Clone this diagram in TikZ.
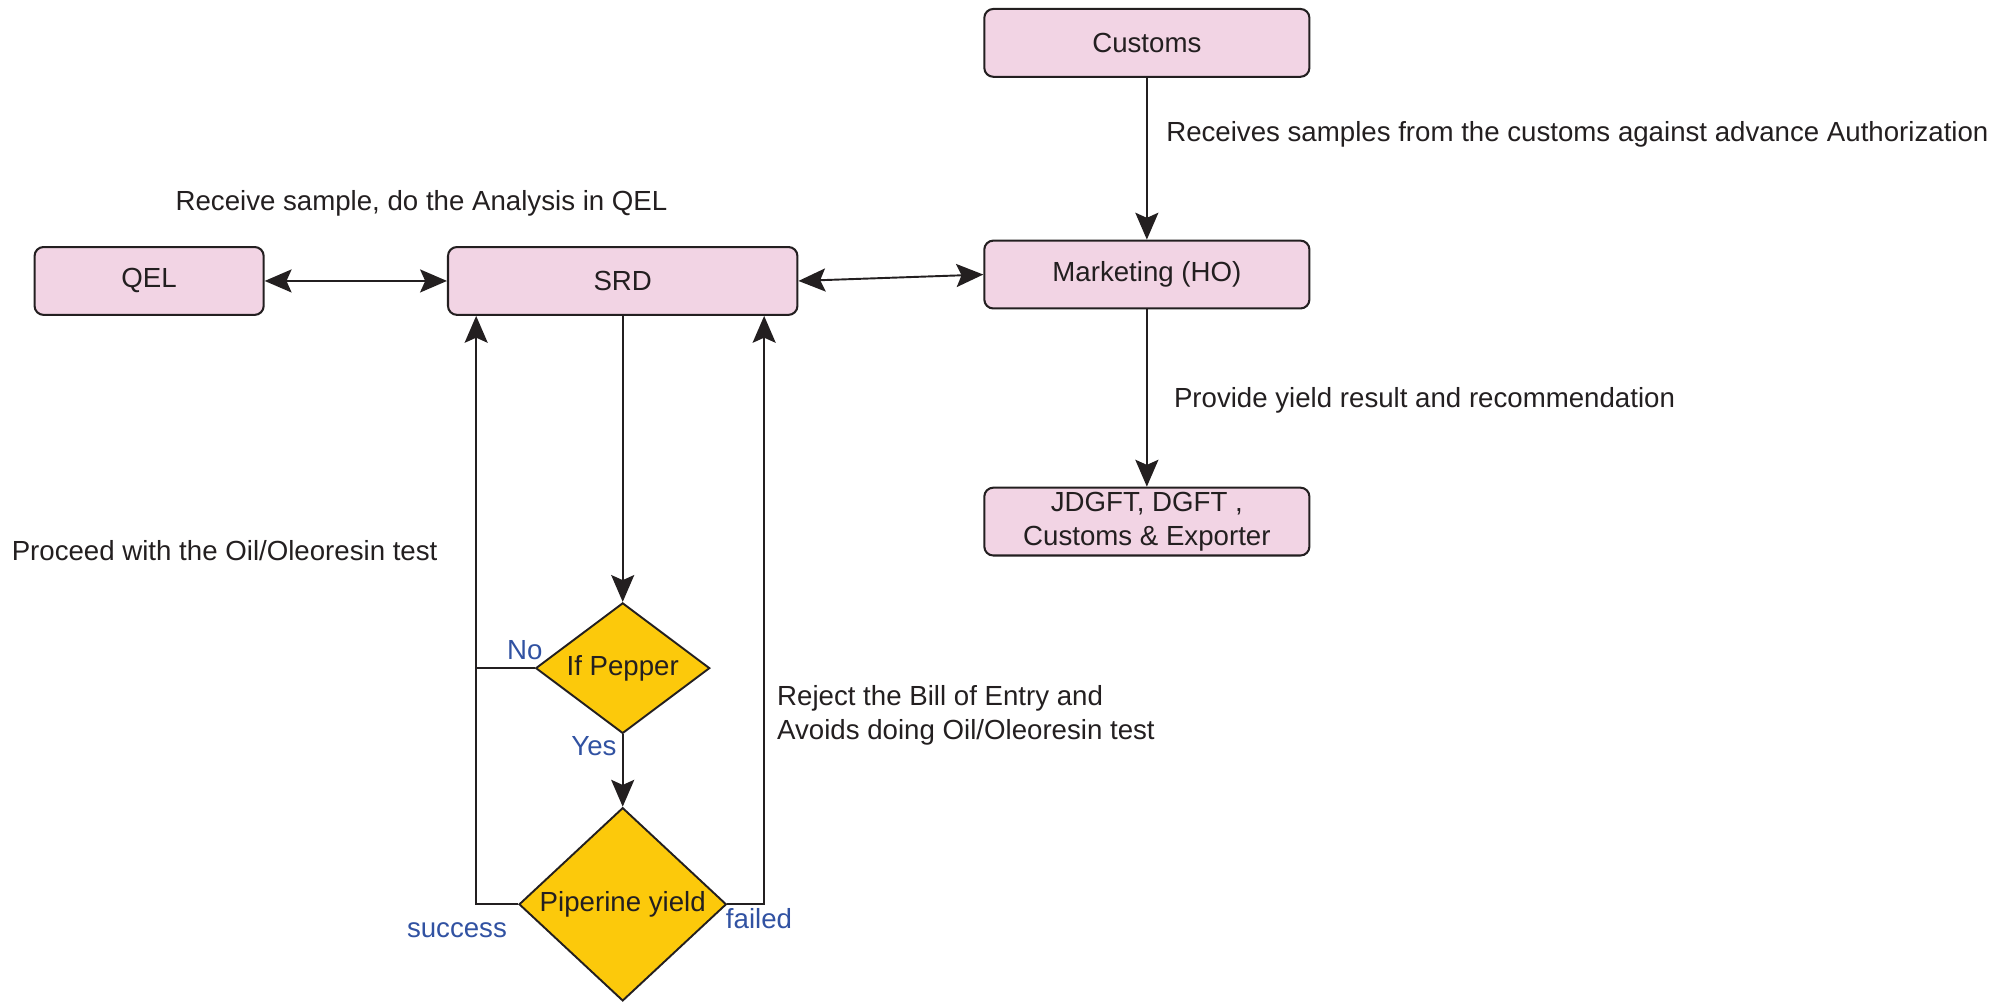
\documentclass[tikz,border=0pt]{standalone}
\usepackage{fontspec}
\setmainfont{Liberation Sans}
\usetikzlibrary{shapes.geometric,arrows.meta,calc}
\definecolor{boxpink}{HTML}{F2D4E4}
\definecolor{gold}{HTML}{FCC90B}
\definecolor{ink}{HTML}{231F20}
\definecolor{lblue}{HTML}{3152A2}
\begin{document}
\begin{tikzpicture}[x=1pt,y=-1pt,
  font=\fontsize{21.6}{27}\selectfont,
  every node/.style={text=ink},
  procbox/.style={draw=ink, fill=boxpink, rounded corners=7pt, line width=1.6pt,
    minimum width=254pt, minimum height=53pt, inner sep=0pt, align=center},
  decision/.style={diamond, draw=ink, fill=gold, line width=1.5pt, inner sep=0pt},
  conn/.style={draw=ink, line width=1.5pt},
  arr/.style={conn, -{Stealth[length=21pt,width=18pt,inset=4pt]}},
  biarr/.style={conn, {Stealth[length=21pt,width=18pt,inset=4pt]}-{Stealth[length=21pt,width=18pt,inset=4pt]}},
  note/.style={anchor=west, inner sep=0pt},
  ans/.style={text=lblue, inner sep=0pt}]
\useasboundingbox (0,0) rectangle (1568,783);

% boxes
\node[procbox] (cus) at (896,33.5) {Customs};
\node[procbox] (mkt) at (896,214.5) {Marketing (HO)};
\node[procbox] (jd) at (896,407.5) {JDGFT, DGFT ,\\Customs \& Exporter};
\node[procbox, minimum width=179pt] (qel) at (116.5,219.5) {QEL};
\node[procbox, minimum width=273pt] (srd) at (486.5,219.5) {SRD};
\node[decision, shape aspect=1.33, minimum width=136pt, minimum height=102pt] (pep) at (486.5,522) {If Pepper};
\node[decision, minimum width=162pt, minimum height=151pt] (pip) at (486.5,706.5) {Piperine yield};

% notes
\node[note] (t1) at (137,159) {Receive sample, do the Analysis in QEL};
\node[note] (t2) at (911,105) {Receives samples from the customs against advance Authorization};
\node[note] (t3) at (917,313) {Provide yield result and recommendation};
\node[note] (t4) at (9,430) {Proceed with the Oil/Oleoresin test};
\node[note, align=left] (t5) at (607,559) {Reject the Bill of Entry and\\Avoids doing Oil/Oleoresin test};

% answer labels
\node[ans] (no) at (410,508) {No};
\node[ans] (yes) at (464,583) {Yes};
\node[ans] (succ) at (357,727) {success};
\node[ans] (fail) at (593,718) {failed};

% helper coordinates
\coordinate (lx) at (372,0);
\coordinate (rx) at (597,0);

% connectors
\draw[biarr] (qel.east) -- (srd.west);
\draw[biarr] (srd.east) -- (mkt.west);
\draw[arr] (cus.south) -- (mkt.north);
\draw[arr] (mkt.south) -- (jd.north);
\draw[arr] (srd.south) -- (pep.north);
\draw[arr] (pep.south) -- (pip.north);
\draw[conn] (pep.west) -- (pep.west -| lx);
\draw[arr] (pip.west) -- (pip.west -| lx) -- (lx |- srd.south);
\draw[arr] (pip.east) -- (pip.east -| rx) -- (rx |- srd.south);
\end{tikzpicture}
\end{document}
